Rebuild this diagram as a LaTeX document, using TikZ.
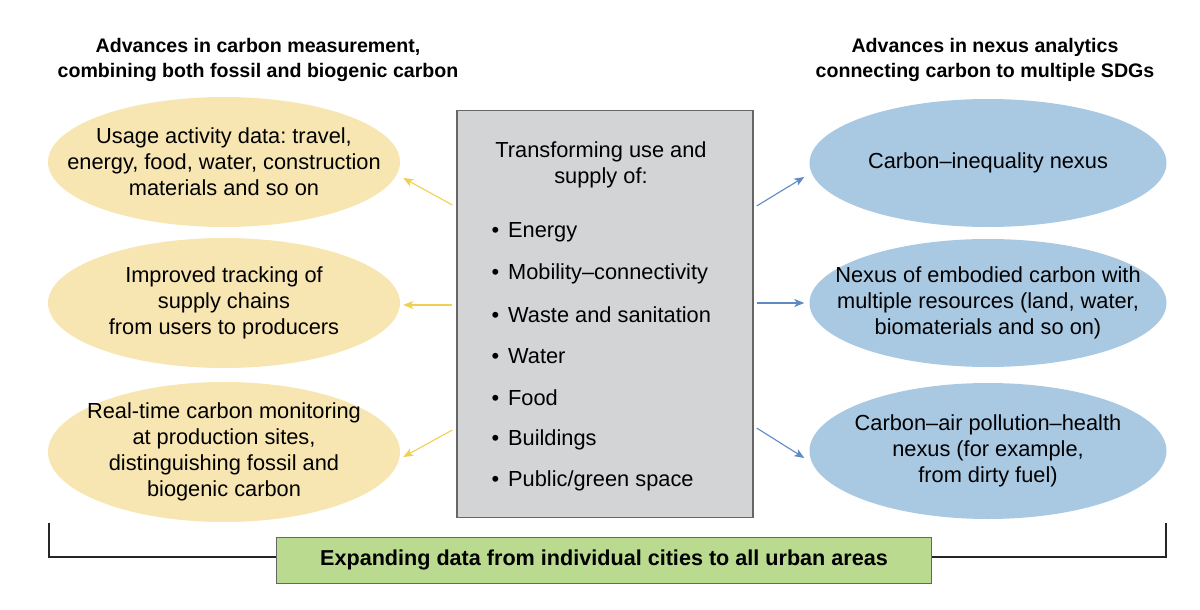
\documentclass[tikz,border=0pt]{standalone}
\usepackage{fontspec}
\setmainfont{Liberation Sans}
\frenchspacing
\usetikzlibrary{arrows.meta,shapes.geometric,calc}

\definecolor{oyellow}{HTML}{F8E6B2}
\definecolor{oblue}{HTML}{A9C9E3}
\definecolor{hubgray}{HTML}{D3D4D6}
\definecolor{datagreen}{HTML}{B9DA8F}
\definecolor{yarrcol}{HTML}{F1D04E}
\definecolor{barrcol}{HTML}{5D8AC3}

\tikzset{
  oval/.style={ellipse,minimum width=352pt,minimum height=130pt,inner sep=0pt},
  ovaltext/.style={align=center,font=\fontsize{21.8}{26}\selectfont},
  heading/.style={align=center,font=\bfseries\fontsize{19.6}{25}\selectfont},
  item/.style={anchor=west,font=\fontsize{21.8}{24}\selectfont},
  yarr/.style={draw=yarrcol,line width=1.1pt,-{Stealth[length=10pt,width=8pt,inset=2.5pt]}},
  barr/.style={draw=barrcol,line width=1.1pt,-{Stealth[length=10pt,width=8pt,inset=2.5pt]}},
}

\begin{document}
\begin{tikzpicture}[x=1pt,y=-1pt]
\useasboundingbox (0,0) rectangle (1200,610);
% headings
\node[heading] (lhead) at (258,60) {Advances in carbon measurement,\\combining both fossil and biogenic carbon};
\node[heading] (rhead) at (985,60) {Advances in nexus analytics\\connecting carbon to multiple SDGs};
% central box
\node[draw=black!60,line width=1.3pt,fill=hubgray,minimum width=296pt,minimum height=407pt,inner sep=0pt] (hub) at (605,314) {};
\node[align=center,font=\fontsize{21.8}{26}\selectfont] (hubtitle) at (601,165) {Transforming use and\\supply of:};
\foreach \i/\txt in {0/Energy,1/Mobility--connectivity,2/Waste and sanitation,3/Water,4/Food,5/Buildings,6/{Public/green space}}
  \node[item] (it\i) at (488,232+41.5*\i) {\textbullet\hspace{9pt}\txt};
% left ovals
\node[oval,fill=oyellow] (u1) at (224,162) {};
\node[oval,fill=oyellow] (u2) at (224,303) {};
\node[oval,fill=oyellow,minimum height=140pt] (u3) at (224,452) {};
\node[ovaltext] (t1) at (u1) {Usage activity data: travel,\\energy, food, water, construction\\materials and so on};
\node[ovaltext] (t2) at (u2) {Improved tracking of\\supply chains\\from users to producers};
\node[ovaltext] (t3) at (u3) {Real-time carbon monitoring\\at production sites,\\distinguishing fossil and\\biogenic carbon};
% right ovals
\node[oval,fill=oblue,minimum width=357pt,minimum height=128pt] (n1) at (988,163) {};
\node[oval,fill=oblue,minimum width=357pt,minimum height=128pt] (n2) at (988,303) {};
\node[oval,fill=oblue,minimum width=357pt,minimum height=136pt] (n3) at (988,451) {};
\node[ovaltext] (s1) at (n1) {Carbon--inequality nexus};
\node[ovaltext] (s2) at (n2) {Nexus of embodied carbon with\\multiple resources (land, water,\\biomaterials and so on)};
\node[ovaltext] (s3) at (n3) {Carbon--air pollution--health\\nexus (for example,\\from dirty fuel)};
% arrows
\draw[yarr] ($(hub.west)+(-4,-109)$) -- ($(u1.east)+(3,16)$);
\draw[yarr] ($(hub.west)+(-4,-9)$) -- ($(u2.east)+(3,2)$);
\draw[yarr] ($(hub.west)+(-4,116)$) -- ($(u3.east)+(3,5)$);
\draw[barr] ($(hub.east)+(3,-108)$) -- ($(n1.west)+(-5,14)$);
\draw[barr] ($(hub.east)+(3,-11)$) -- ($(n2.west)+(-5,0)$);
\draw[barr] ($(hub.east)+(3,114)$) -- ($(n3.west)+(-5,7)$);
% bottom bracket
\node[draw=black!60,line width=1pt,fill=datagreen,minimum width=655pt,minimum height=46pt,inner sep=0pt,font=\bfseries\fontsize{21.6}{24}\selectfont] (data) at (604,560) {Expanding data from individual cities to all urban areas};
\coordinate (bl) at (49,523);
\coordinate (br) at (1166,523);
\draw[black!85,line width=1.3pt] (bl) |- ([yshift=3pt]data.west);
\draw[black!85,line width=1.3pt] ([yshift=3pt]data.east) -| (br);
\end{tikzpicture}
\end{document}
